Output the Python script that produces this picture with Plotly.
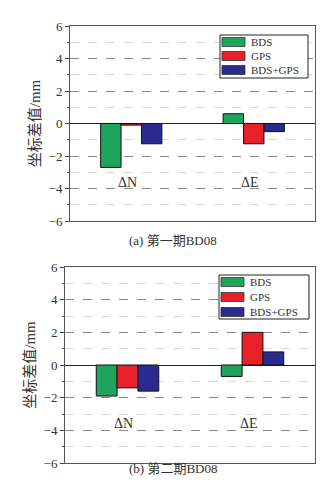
import plotly.graph_objects as go

categories = ["ΔN", "ΔE"]
series_names = ["BDS", "GPS", "BDS+GPS"]
colors = ["#1fa45c", "#e8202a", "#2b2b8f"]

# Panel (a) 第一期BD08
vals_a = {
    "BDS": [-2.7, 0.6],
    "GPS": [-0.1, -1.25],
    "BDS+GPS": [-1.25, -0.5],
}
# Panel (b) 第二期BD08
vals_b = {
    "BDS": [-1.9, -0.7],
    "GPS": [-1.4, 2.0],
    "BDS+GPS": [-1.6, 0.8],
}
y_ticks = [-6, -4, -2, 0, 2, 4, 6]
captions = ["(a) 第一期BD08", "(b) 第二期BD08"]
ylabel = "坐标差值/mm"

SERIF = "Liberation Serif, Times New Roman, serif"
CJK = "Liberation Serif, Noto Sans CJK SC, serif"

W, H = 324, 482
ML, MR, MT, MB = 57, 17, 18, 27
PW, PH = W - ML - MR, H - MT - MB


def px(x):
    return (x - ML) / PW


def py(y):
    return (H - MB - y) / PH


fig = go.Figure()
for vals, xa, ya in [(vals_a, "x", "y"), (vals_b, "x2", "y2")]:
    for name, col in zip(series_names, colors):
        fig.add_trace(go.Bar(
            x=[0, 1], y=vals[name], name=name, xaxis=xa, yaxis=ya,
            marker=dict(color=col, line=dict(color="#111", width=1)),
            showlegend=False,
        ))

common_y = dict(
    range=[-6, 6], tickvals=y_ticks, ticks="outside", ticklen=4,
    tickfont=dict(family=SERIF, size=13, color="#333"),
    showline=True, linecolor="#555", linewidth=1, mirror=True,
    showgrid=True, gridcolor="#888", griddash="dash", gridwidth=1,
    zeroline=True, zerolinecolor="#222", zerolinewidth=1.2,
    minor=dict(dtick=1, showgrid=True, gridcolor="#d8d8d8", griddash="dash",
               ticks="outside", ticklen=2, tickcolor="#555"),
    title=dict(text=ylabel, font=dict(family=CJK, size=15, color="#333"), standoff=4),
)
common_x = dict(
    range=[-0.5, 1.5], showticklabels=False, ticks="",
    showline=True, linecolor="#555", linewidth=1, mirror=True,
    showgrid=False, zeroline=False,
)

fig.update_layout(
    width=W, height=H,
    margin=dict(l=ML, r=MR, t=MT, b=MB),
    paper_bgcolor="white", plot_bgcolor="white",
    barmode="group", bargap=0.5, bargroupgap=0,
    xaxis=dict(domain=[px(62), 1], anchor="y", **common_x),
    yaxis=dict(domain=[py(213), 1], anchor="x", **common_y),
    xaxis2=dict(domain=[0, 1], anchor="y2", **common_x),
    yaxis2=dict(domain=[0, py(259)], anchor="x2", **common_y),
    showlegend=False,
)

for xa, ya in [("x", "y"), ("x2", "y2")]:
    for i, c in enumerate(categories):
        fig.add_annotation(x=i - 0.03, y=-3.6, xref=xa, yref=ya, text=c, showarrow=False,
                           font=dict(family=SERIF, size=14, color="#333"))

fig.add_annotation(x=0.43, y=py(232), xref="paper", yref="paper", text=captions[0],
                   showarrow=False, font=dict(family=CJK, size=13, color="#333"))
fig.add_annotation(x=0.43, y=py(470), xref="paper", yref="paper", text=captions[1],
                   showarrow=False, font=dict(family=CJK, size=13, color="#333"))

# custom legends (box, swatches, labels), positions in pixels
legend_boxes = [(212, 27, 300, 70, [34, 48, 62]), (211, 267, 301, 311, [274, 289, 304])]
for x0, y0, x1, y1, rows in legend_boxes:
    fig.add_shape(type="rect", xref="paper", yref="paper",
                  x0=px(x0), x1=px(x1), y0=py(y1), y1=py(y0),
                  line=dict(color="#222", width=1), fillcolor="white", layer="above")
    for ry, name, col in zip(rows, series_names, colors):
        fig.add_shape(type="rect", xref="paper", yref="paper",
                      x0=px(x0 + 2), x1=px(x0 + 25), y0=py(ry + 4.5), y1=py(ry - 4.5),
                      line=dict(color="#333", width=0.8), fillcolor=col, layer="above")
        fig.add_annotation(x=px(x0 + 29), y=py(ry), xref="paper", yref="paper",
                           text=name, showarrow=False, xanchor="left", yanchor="middle",
                           font=dict(family=SERIF, size=11, color="#333"))

fig.write_html("out.html")
